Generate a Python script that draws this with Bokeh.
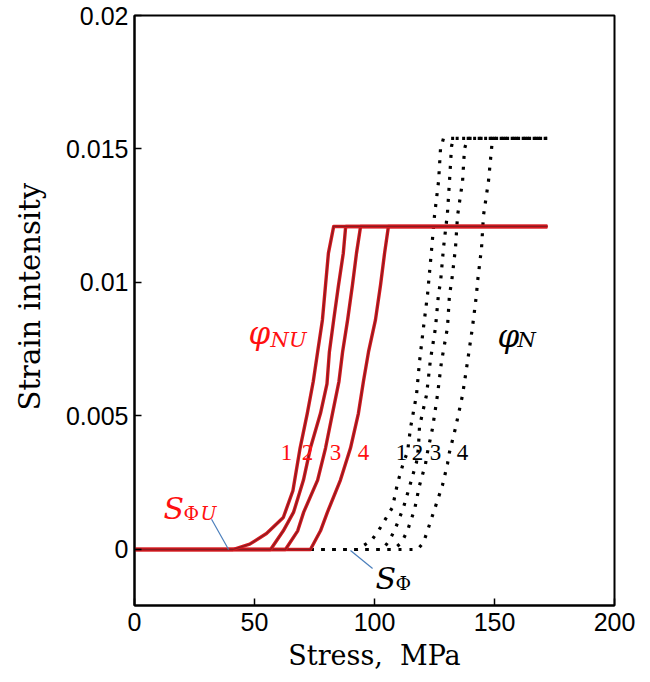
from bokeh.plotting import figure
from bokeh.models import Range1d, FixedTicker, CustomJSTickFormatter
from bokeh.core.properties import value
from bokeh.embed import file_html
from bokeh.resources import INLINE

# ---- data: red curves (phi_NU), stress MPa vs strain intensity ----
red1_x = [0, 41, 48, 55, 62, 66, 69, 72, 74.5, 76.3, 78.3, 79.6, 80.8, 83, 172]
red1_y = [0, 0, 0.0002, 0.0006, 0.0012, 0.0022, 0.0038, 0.0051, 0.0063, 0.0074, 0.0086, 0.0099, 0.0111, 0.0121, 0.0121]
red2_x = [0, 56.7, 62, 66.3, 70.4, 73.3, 77.5, 80.2, 81.2, 83, 85, 87, 88, 172]
red2_y = [0, 0, 0.0007, 0.0014, 0.0026, 0.0038, 0.0051, 0.0062, 0.0074, 0.0086, 0.0099, 0.0111, 0.0121, 0.0121]
red3_x = [0, 62.9, 68, 70.5, 76.3, 79.6, 82.5, 85.2, 86.7, 88.8, 90.8, 92.5, 94.2, 172]
red3_y = [0, 0, 0.0007, 0.0014, 0.0026, 0.0038, 0.0051, 0.0063, 0.0074, 0.0086, 0.0099, 0.0111, 0.0121, 0.0121]
red4_x = [0, 73.3, 77.5, 80.4, 85.8, 90, 93.3, 95.4, 97.5, 100.4, 102.5, 104.2, 105.8, 172]
red4_y = [0, 0, 0.0007, 0.0014, 0.0026, 0.0038, 0.0051, 0.0063, 0.0074, 0.0086, 0.0099, 0.0111, 0.0121, 0.0121]

# ---- data: black dotted curves (phi_N) ----
blk1_x = [0, 92.9, 98.75, 101.7, 107.5, 109.6, 112.1, 113.75, 115, 117.5, 118.75, 120.4, 122.1, 123.75, 125, 126.7, 127.5, 128.75, 172]
blk1_y = [0, 0, 0.00034, 0.00071, 0.00158, 0.00248, 0.00327, 0.00365, 0.00455, 0.00579, 0.00703, 0.00831, 0.00955, 0.0112, 0.0125, 0.0138, 0.0150, 0.0154, 0.0154]
blk2_x = [0, 103.3, 106.25, 108.75, 112.1, 115, 117.5, 118.3, 118.75, 121.7, 123.3, 125.4, 126.7, 127.5, 128.75, 130.4, 131.25, 132.1, 132.9, 172]
blk2_y = [0, 0, 0.00034, 0.0008, 0.00158, 0.00248, 0.00327, 0.0038, 0.0046, 0.0058, 0.0071, 0.0083, 0.0096, 0.0100, 0.0113, 0.0126, 0.0138, 0.0151, 0.0154, 0.0154]
blk3_x = [0, 107.9, 111.25, 113.75, 116.7, 118.75, 121.25, 122.1, 124.2, 126.25, 127.9, 130.4, 131.25, 132.1, 133.75, 134.6, 136.7, 137.5, 138.75, 172]
blk3_y = [0, 0, 0.00026, 0.00071, 0.0015, 0.0024, 0.0032, 0.00365, 0.00455, 0.00579, 0.00703, 0.00831, 0.00955, 0.0100, 0.0113, 0.0125, 0.0138, 0.0150, 0.0154, 0.0154]
blk4_x = [0, 117.9, 120.4, 122.1, 125, 128.3, 130.4, 131.25, 133.75, 136.7, 138.75, 140.8, 142.5, 142.9, 144.6, 145.4, 147.5, 148.75, 149.2, 172]
blk4_y = [0, 0, 0.00026, 0.00071, 0.0015, 0.0024, 0.0032, 0.00365, 0.00455, 0.00579, 0.00703, 0.00831, 0.00955, 0.0100, 0.0113, 0.0125, 0.0138, 0.0150, 0.0154, 0.0154]

curve_numbers = ["1", "2", "3", "4"]
red_label_x = [63.3, 72.1, 83.75, 95.4]
blk_label_x = [111.25, 117.9, 125.4, 136.7]
label_y = 0.00365

x_ticks = [0, 50, 100, 150, 200]
y_ticks = [0, 0.005, 0.01, 0.015, 0.02]

RED = "#d8181f"
SERIF = "DejaVu Serif"

p = figure(width=642, height=674, output_backend="svg", toolbar_location=None,
           x_range=Range1d(0, 200), y_range=Range1d(-0.0020974, 0.02),
           min_border_left=134, min_border_right=28, min_border_top=15, min_border_bottom=69)
p.grid.visible = False
p.outline_line_color = "black"
p.outline_line_width = 2
p.background_fill_color = "white"
p.border_fill_color = "white"

for ax in (p.xaxis[0], p.yaxis[0]):
    ax.axis_line_color = "black"
    ax.axis_line_width = 2
    ax.major_tick_in = 7
    ax.major_tick_out = 0
    ax.major_tick_line_width = 1.5
    ax.minor_tick_line_color = None
    ax.major_label_text_font = "Liberation Sans"
    ax.major_label_text_font_size = "25px"
    ax.major_label_text_color = "black"
    ax.axis_label_text_font = SERIF
    ax.axis_label_text_font_style = "normal"
    ax.axis_label_text_color = "black"

p.xaxis[0].axis_label_text_font_size = "27px"
p.yaxis[0].axis_label_text_font_size = "29px"
p.xaxis[0].ticker = FixedTicker(ticks=x_ticks)
p.yaxis[0].ticker = FixedTicker(ticks=y_ticks)
p.yaxis[0].formatter = CustomJSTickFormatter(code="""
let s = tick.toFixed(3).replace(/0+$/, '').replace(/\\.$/, '');
return s;
""")
p.xaxis[0].axis_label = "Stress,\u00a0\u00a0MPa"
p.yaxis[0].axis_label = "\u00a0\u00a0\u00a0Strain intensity"
p.xaxis[0].major_label_standoff = 7
p.yaxis[0].major_label_standoff = 6
p.xaxis[0].axis_label_standoff = 6
p.yaxis[0].axis_label_standoff = 16

# black dotted curves first
for bx, by in [(blk1_x, blk1_y), (blk2_x, blk2_y), (blk3_x, blk3_y), (blk4_x, blk4_y)]:
    p.line(bx, by, line_color="black", line_width=3.2, line_dash="3 8")

# red curves
for rx, ry in [(red4_x, red4_y), (red3_x, red3_y), (red2_x, red2_y), (red1_x, red1_y)]:
    p.line(rx, ry, line_color=RED, line_width=3.4, line_join="round")
    p.line(rx, ry, line_color="#7a1e22", line_width=1.3, line_alpha=0.85, line_join="round")

# curve number labels
p.text(x=red_label_x, y=[label_y] * 4, text=curve_numbers, text_color="#ff1010",
       text_font=value("Liberation Serif"), text_font_size="23px", text_align="center",
       text_baseline="alphabetic")
p.text(x=blk_label_x, y=[label_y] * 4, text=curve_numbers, text_color="black",
       text_font=value("Liberation Serif"), text_font_size="23px", text_align="center",
       text_baseline="alphabetic")

# phi labels
p.text(x=[47.5], y=[0.0081], text=["φ"], text_color="#ff1010", text_font=value(SERIF),
       text_font_style="italic", text_font_size="31px", text_baseline="alphabetic")
p.text(x=[56.7], y=[0.00786], text=["NU"], text_color="#ff1010", text_font=value(SERIF),
       text_font_style="italic", text_font_size="21px", text_baseline="alphabetic")
p.text(x=[151.25], y=[0.0080], text=["φ"], text_color="black", text_font=value(SERIF),
       text_font_style="italic", text_font_size="31px", text_baseline="alphabetic")
p.text(x=[159.6], y=[0.00786], text=["N"], text_color="black", text_font=value(SERIF),
       text_font_style="italic", text_font_size="21px", text_baseline="alphabetic")

# S labels
p.text(x=[12.1], y=[0.00154], text=["S"], text_color="#ff1010", text_font=value(SERIF),
       text_font_style="italic", text_font_size="30px", text_baseline="alphabetic")
p.text(x=[20.4], y=[0.00135], text=["Φ"], text_color="#ff1010", text_font=value(SERIF),
       text_font_size="19px", text_baseline="alphabetic")
p.text(x=[27.5], y=[0.00135], text=["U"], text_color="#ff1010", text_font=value(SERIF),
       text_font_style="italic", text_font_size="19px", text_baseline="alphabetic")
p.text(x=[100.4], y=[-0.00109], text=["S"], text_color="black", text_font=value(SERIF),
       text_font_style="italic", text_font_size="30px", text_baseline="alphabetic")
p.text(x=[108.75], y=[-0.00124], text=["Φ"], text_color="black", text_font=value(SERIF),
       text_font_size="19px", text_baseline="alphabetic")

# leader lines
p.segment(x0=[32.1, 90.0], y0=[0.00113, -0.00004], x1=[39.2, 99.2], y1=[0.0, -0.00071],
          line_color="#4a7ebb", line_width=1.2)

open("out.html", "w").write(file_html(p, INLINE))
